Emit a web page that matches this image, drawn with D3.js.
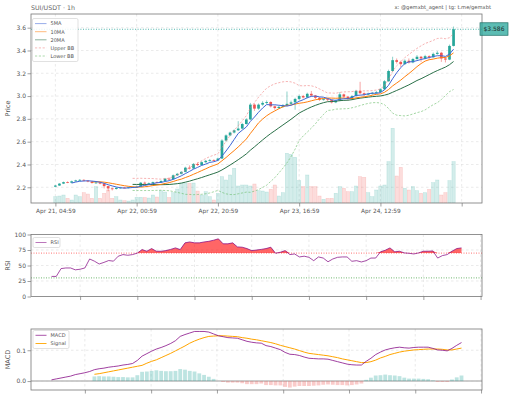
<!DOCTYPE html>
<html><head><meta charset="utf-8">
<script src="https://cdn.jsdelivr.net/npm/d3@7"></script>
<style>body{margin:0;background:#fff}svg{display:block}text{font-family:"DejaVu Sans",sans-serif}</style>
</head><body><svg id="c" width="512" height="398"></svg>
<script>
// ---------- DATA ----------
const timeTicks = [0, 20, 40, 60, 80, 100];
const timeLabels = ["Apr 21, 04:59", "Apr 22, 00:59", "Apr 22, 20:59", "Apr 23, 16:59", "Apr 24, 12:59", ""];
const open = [2.205,2.215,2.232,2.245,2.240,2.252,2.260,2.265,2.258,2.250,
2.238,2.242,2.232,2.210,2.190,2.185,2.195,2.198,2.195,2.200,
2.202,2.205,2.240,2.234,2.236,2.245,2.242,2.255,2.275,2.270,
2.305,2.318,2.335,2.372,2.365,2.405,2.395,2.420,2.432,2.438,
2.435,2.452,2.610,2.655,2.680,2.700,2.715,2.755,2.795,2.925,
2.890,2.925,2.940,2.948,2.910,2.895,2.905,2.920,2.932,2.945,
2.975,3.000,2.988,3.020,3.005,2.985,2.968,2.972,2.966,2.945,
2.960,3.015,2.995,2.975,3.000,3.045,3.025,3.012,3.020,3.028,
3.035,3.060,3.130,3.220,3.315,3.300,3.280,3.310,3.295,3.325,
3.345,3.330,3.350,3.340,3.370,3.380,3.330,3.320,3.440];
const close = [2.215,2.232,2.245,2.240,2.252,2.260,2.265,2.258,2.250,2.238,
2.242,2.232,2.210,2.190,2.185,2.195,2.198,2.195,2.200,2.202,
2.205,2.240,2.234,2.236,2.245,2.242,2.255,2.275,2.270,2.305,
2.318,2.335,2.372,2.365,2.405,2.395,2.420,2.432,2.438,2.435,
2.452,2.610,2.655,2.680,2.700,2.715,2.755,2.795,2.925,2.890,
2.925,2.940,2.948,2.910,2.895,2.905,2.920,2.932,2.945,2.975,
3.000,2.988,3.020,3.005,2.985,2.968,2.972,2.966,2.945,2.960,
3.015,2.995,2.975,3.000,3.045,3.025,3.012,3.020,3.028,3.035,
3.060,3.130,3.220,3.315,3.300,3.280,3.310,3.295,3.325,3.345,
3.330,3.350,3.340,3.370,3.380,3.330,3.320,3.440,3.586];
const high = [2.220,2.236,2.250,2.252,2.258,2.266,2.272,2.270,2.262,2.254,
2.250,2.246,2.238,2.214,2.196,2.200,2.204,2.203,2.205,2.208,
2.212,2.246,2.250,2.242,2.250,2.252,2.262,2.282,2.286,2.312,
2.326,2.342,2.380,2.392,2.412,2.418,2.428,2.440,2.448,2.446,
2.460,2.622,2.664,2.688,2.708,2.780,2.765,2.805,2.940,2.935,
2.935,2.955,2.962,2.955,2.918,2.915,2.930,3.040,2.960,2.985,
3.012,3.010,3.030,3.045,3.010,2.992,2.980,2.982,2.972,2.970,
3.035,3.022,3.000,3.008,3.055,3.125,3.032,3.030,3.036,3.045,
3.068,3.140,3.232,3.345,3.330,3.310,3.322,3.330,3.335,3.360,
3.352,3.362,3.358,3.382,3.395,3.388,3.345,3.452,3.610];
const low = [2.200,2.212,2.228,2.236,2.237,2.248,2.256,2.252,2.244,2.232,
2.230,2.226,2.190,2.165,2.172,2.180,2.188,2.190,2.190,2.194,
2.196,2.200,2.228,2.226,2.230,2.236,2.238,2.250,2.262,2.266,
2.298,2.312,2.330,2.356,2.360,2.386,2.390,2.414,2.425,2.426,
2.430,2.448,2.600,2.648,2.672,2.694,2.708,2.750,2.790,2.870,
2.880,2.915,2.930,2.900,2.880,2.888,2.898,2.910,2.925,2.880,
2.965,2.978,2.980,2.995,2.972,2.958,2.960,2.955,2.935,2.938,
2.955,2.985,2.960,2.968,2.995,3.015,2.998,3.005,3.012,3.020,
3.028,3.052,3.125,3.212,3.285,3.255,3.272,3.285,3.288,3.318,
3.300,3.322,3.320,3.335,3.362,3.300,3.295,3.315,3.435];
const volume = [0.19,0.21,0.24,0.14,0.09,0.24,0.19,0.31,0.27,0.14,
0.49,0.14,0.29,0.39,0.14,0.19,0.09,0.07,0.06,0.09,
0.17,0.17,0.165,0.15,0.24,0.18,0.37,0.33,0.165,0.31,
0.42,0.59,0.59,0.59,0.60,0.36,0.24,0.34,0.19,0.09,
0.29,0.79,0.69,0.84,1.04,0.51,0.54,0.54,0.51,0.57,
0.37,0.36,0.33,0.41,0.54,0.21,0.31,1.49,1.46,1.37,
0.67,0.49,0.84,0.49,0.49,0.21,0.11,0.14,0.14,0.29,
0.49,0.44,0.34,0.34,0.51,0.79,0.77,0.31,0.19,0.39,
0.51,0.54,1.24,2.24,0.81,1.07,0.44,0.39,0.49,0.37,
0.29,0.31,0.41,0.61,0.69,0.24,0.31,0.67,1.24];
const lastPrice = 3.586;
const priceTicks = [2.2, 2.4, 2.6, 2.8, 3.0, 3.2, 3.4, 3.6];

const rsi = [32.4,32.4,45,46,46,43,44,46,60.5,57,
52.4,55,58,57,65,67.6,66.5,67.6,70,75.7,
73,77.3,73,73,74,76,78.4,75.7,86.5,88,
86.5,86.5,88,89,90.8,93,85,85,86.5,80,
79.5,77.3,74,75,76,77.3,79.5,69.7,71.4,74,
67.6,68.6,63.8,65,63.2,57.8,63.8,62,56,60.5,
63.2,63.8,63.8,56.8,57.8,55.7,57.8,62,62,72,
74.6,78.4,72,73,70.3,69.7,68.6,70.3,73,73,
73.5,62,66,67.6,73,77.3,78.4];
const rsiTicks = [0, 25, 50, 75, 100];
const rsiXTicks = [6, 18, 30, 42, 54, 66, 78, 90];

const macd = [.004,.007,.010,.013,.016,.021,.024,.027,.031,.037,
.040,.042,.045,.047,.049,.052,.054,.057,.067,.081,
.089,.097,.104,.109,.115,.122,.131,.145,.151,.156,
.161,.161,.161,.159,.153,.147,.144,.141,.140,.139,
.134,.129,.126,.124,.123,.115,.112,.107,.102,.093,
.087,.086,.083,.078,.074,.073,.072,.072,.071,.067,
.063,.059,.055,.053,.052,.052,.064,.074,.086,.094,
.101,.105,.108,.110,.108,.107,.109,.110,.110,.110,
.106,.101,.100,.098,.106,.116,.125];
const signal = [null,null,null,null,null,null,null,null,null,
.022,.024,.027,.030,.033,.036,.039,.042,.045,.048,
.051,.058,.064,.069,.076,.083,.090,.098,.106,.114,
.123,.130,.136,.141,.145,.146,.147,.147,.146,.145,
.144,.141,.139,.136,.134,.131,.128,.125,.121,.116,
.112,.108,.104,.099,.094,.090,.088,.086,.084,.082,
.079,.076,.072,.069,.066,.063,.060,.060,.063,.068,
.075,.080,.086,.090,.094,.097,.099,.101,.102,.103,
.104,.104,.104,.103,.101,.101,.104,.107];
const macdTicks = [0.0, 0.1];
const macdXTicks = [7, 20.9, 34.7, 48.6, 62.4, 76.3, 90.1];

// ---------- STYLE ----------
const UP = "#26a69a", DOWN = "#ef5350";
const C5 = "#3f67d6", C10 = "#ff7f0e", C20 = "#2a7048";
const CBU = "#f08080", CBL = "#66bb66";
const TXT = "#555", SPINE = "#777", GRID = "#dcdcdc";

const svg = d3.select("#c");
const L = 31, R = 482;
const P = {top: 14, bottom: 203}, RP = {top: 234.5, bottom: 296.5}, MP = {top: 329, bottom: 390};

// ---------- SCALES ----------
const x = d3.scaleLinear().domain([-6, 105]).range([L, R]);
const y = d3.scaleLinear().domain([2.062, 3.72]).range([P.bottom, P.top]);
const yv = d3.scaleLinear().domain([0, d3.max(volume) * 2.53]).range([P.bottom, P.top]);
const xi = d3.scaleLinear().domain([-4.3, 90.3]).range([L, R]);
const yr = d3.scaleLinear().domain([0, 100]).range([RP.bottom, RP.top]);
const ym = d3.scaleLinear().domain([-0.029, 0.169]).range([MP.bottom, MP.top]);

// derived indicators
const sma = k => close.map((_, i) => i < k - 1 ? null : d3.mean(close.slice(i - k + 1, i + 1)));
const ma5 = sma(5), ma10 = sma(10), ma20 = sma(20);
const sd20 = close.map((_, i) => i < 19 ? null : d3.deviation(close.slice(i - 19, i + 1)));
const bbU = ma20.map((m, i) => m == null ? null : m + 2 * sd20[i]);
const bbL = ma20.map((m, i) => m == null ? null : m - 2 * sd20[i]);
const hist = macd.map((m, i) => ({i, v: signal[i] == null ? null : m - signal[i]})).filter(o => o.v != null);

// clip paths
const defs = svg.append("defs");
[["cp", P], ["cr", RP], ["cm", MP]].forEach(([id, p]) => {
  defs.append("clipPath").attr("id", id).append("rect")
    .attr("x", L).attr("y", p.top).attr("width", R - L).attr("height", p.bottom - p.top);
});

function grid(g, xs, xvals, ys, yvals, p) {
  g.selectAll(null).data(xvals).enter().append("line")
    .attr("x1", d => xs(d)).attr("x2", d => xs(d)).attr("y1", p.top).attr("y2", p.bottom)
    .attr("stroke", GRID).attr("stroke-width", 0.6).attr("stroke-dasharray", "2.5,2.5");
  g.selectAll(null).data(yvals).enter().append("line")
    .attr("x1", L).attr("x2", R).attr("y1", d => ys(d)).attr("y2", d => ys(d))
    .attr("stroke", GRID).attr("stroke-width", 0.6).attr("stroke-dasharray", "2.5,2.5");
}
function styleAxis(g, fs) {
  g.attr("font-family", "DejaVu Sans, sans-serif").attr("font-size", fs);
  g.select(".domain").remove();
  g.selectAll("line").attr("stroke", SPINE).attr("stroke-width", 0.7);
  g.selectAll("text").attr("fill", TXT);
}
function frame(p) {
  svg.append("rect").attr("x", L).attr("y", p.top).attr("width", R - L).attr("height", p.bottom - p.top)
    .attr("fill", "none").attr("stroke", SPINE).attr("stroke-width", 0.8);
}
function ylabel(t, p) {
  svg.append("text").attr("transform", `translate(10,${(p.top + p.bottom) / 2}) rotate(-90)`)
    .attr("text-anchor", "middle").attr("fill", TXT).style("font-size", "6.5px").text(t);
}

// ---------- TITLE ----------
svg.append("text").attr("x", 31).attr("y", 9.5).attr("fill", "#666").style("font-size", "6.3px").text("SUI/USDT · 1h");
svg.append("text").attr("x", 491).attr("y", 9.3).attr("text-anchor", "end").attr("fill", TXT).style("font-size", "5.2px")
  .text("x: @gemxbt_agent | tg: t.me/gemxbt");

// ---------- PRICE PANEL ----------
const gp = svg.append("g");
grid(gp, x, timeTicks, y, priceTicks, P);
const pc = svg.append("g").attr("clip-path", "url(#cp)");
const step = x(1) - x(0);
// volume
pc.selectAll(null).data(volume).enter().append("rect")
  .attr("x", (d, i) => x(i) - step * 0.4).attr("width", step * 0.8)
  .attr("y", d => yv(d)).attr("height", d => P.bottom - yv(d))
  .attr("fill", (d, i) => close[i] >= open[i] ? UP : DOWN).attr("fill-opacity", 0.2)
  .attr("stroke", (d, i) => close[i] >= open[i] ? UP : DOWN).attr("stroke-opacity", 0.25).attr("stroke-width", 0.5);
// candles
const cg = pc.selectAll(null).data(close).enter().append("g");
cg.append("line").attr("x1", (d, i) => x(i)).attr("x2", (d, i) => x(i))
  .attr("y1", (d, i) => y(high[i])).attr("y2", (d, i) => y(low[i]))
  .attr("stroke", (d, i) => d >= open[i] ? UP : DOWN).attr("stroke-width", 0.7).attr("stroke-opacity", 0.75);
cg.append("rect").attr("x", (d, i) => x(i) - step * 0.33).attr("width", step * 0.66)
  .attr("y", (d, i) => y(Math.max(d, open[i])))
  .attr("height", (d, i) => Math.max(0.8, Math.abs(y(d) - y(open[i]))))
  .attr("fill", (d, i) => d >= open[i] ? UP : DOWN);
// lines
const lineGen = arr => d3.line().defined(d => d != null).x((d, i) => x(i)).y(d => y(d))(arr);
pc.append("path").attr("d", lineGen(bbU)).attr("fill", "none").attr("stroke", CBU).attr("stroke-width", 0.8).attr("stroke-opacity", 0.75).attr("stroke-dasharray", "2.2,1.6");
pc.append("path").attr("d", lineGen(bbL)).attr("fill", "none").attr("stroke", CBL).attr("stroke-width", 0.8).attr("stroke-opacity", 0.75).attr("stroke-dasharray", "2.2,1.6");
pc.append("path").attr("d", lineGen(ma20)).attr("fill", "none").attr("stroke", C20).attr("stroke-width", 1);
pc.append("path").attr("d", lineGen(ma10)).attr("fill", "none").attr("stroke", C10).attr("stroke-width", 1);
pc.append("path").attr("d", lineGen(ma5)).attr("fill", "none").attr("stroke", C5).attr("stroke-width", 1);
// last price line
svg.append("line").attr("x1", L).attr("x2", R).attr("y1", y(lastPrice)).attr("y2", y(lastPrice))
  .attr("stroke", UP).attr("stroke-width", 0.8).attr("stroke-dasharray", "1,1.6");
frame(P);
const axP = svg.append("g").attr("transform", `translate(0,${P.bottom})`)
  .call(d3.axisBottom(x).tickValues(timeTicks).tickFormat((d, i) => timeLabels[i]).tickSize(3.5).tickPadding(2));
styleAxis(axP, "5.8px");
const ayP = svg.append("g").attr("transform", `translate(${L},0)`)
  .call(d3.axisLeft(y).tickValues(priceTicks).tickFormat(d3.format(".1f")).tickSize(3.5).tickPadding(1.5));
styleAxis(ayP, "6px");
ylabel("Price", P);
// price tag
const ty = y(lastPrice);
svg.append("rect").attr("x", 480).attr("y", ty - 6.5).attr("width", 28).attr("height", 12.5)
  .attr("fill", UP).attr("fill-opacity", 0.75).attr("stroke", "#1e6f67").attr("stroke-width", 0.7);
svg.append("text").attr("x", 494).attr("y", ty + 2.2).attr("text-anchor", "middle").attr("fill", "#1b2b29")
  .style("font-size", "6px").text("$" + lastPrice.toFixed(3));
// legend
const legItems = [
  {n: "5MA", c: C5, d: null}, {n: "10MA", c: C10, d: null}, {n: "20MA", c: C20, d: null},
  {n: "Upper BB", c: CBU, d: "2.2,1.6"}, {n: "Lower BB", c: CBL, d: "2.2,1.6"}];
svg.append("rect").attr("x", 32.5).attr("y", 18.5).attr("width", 45.5).attr("height", 43)
  .attr("fill", "#fff").attr("fill-opacity", 0.85).attr("stroke", "#ccc").attr("stroke-width", 0.6).attr("rx", 1.5);
legItems.forEach((it, k) => {
  const yy = 23.6 + k * 8.1;
  svg.append("line").attr("x1", 35).attr("x2", 46.5).attr("y1", yy).attr("y2", yy)
    .attr("stroke", it.c).attr("stroke-width", 0.9).attr("stroke-dasharray", it.d).attr("stroke-opacity", 0.6);
  svg.append("text").attr("x", 50.5).attr("y", yy + 1.8).attr("fill", TXT).style("font-size", "5px").text(it.n);
});

// ---------- RSI PANEL ----------
const gr = svg.append("g");
grid(gr, xi, rsiXTicks, yr, [25, 50, 75], RP);
const rc = svg.append("g").attr("clip-path", "url(#cr)");
rc.append("path").datum(rsi)
  .attr("d", d3.area().x((d, i) => xi(i)).y0(yr(70)).y1(d => yr(Math.max(d, 70))))
  .attr("fill", "red").attr("fill-opacity", 0.6);
rc.append("line").attr("x1", L).attr("x2", R).attr("y1", yr(70)).attr("y2", yr(70))
  .attr("stroke", "red").attr("stroke-opacity", 0.7).attr("stroke-width", 0.8).attr("stroke-dasharray", "1,1.5");
rc.append("line").attr("x1", L).attr("x2", R).attr("y1", yr(30)).attr("y2", yr(30))
  .attr("stroke", "green").attr("stroke-opacity", 0.7).attr("stroke-width", 0.8).attr("stroke-dasharray", "1,1.5");
rc.append("path").datum(rsi).attr("d", d3.line().x((d, i) => xi(i)).y(d => yr(d)))
  .attr("fill", "none").attr("stroke", "purple").attr("stroke-opacity", 0.7).attr("stroke-width", 1);
frame(RP);
const axR = svg.append("g").attr("transform", `translate(0,${RP.bottom})`)
  .call(d3.axisBottom(xi).tickValues(rsiXTicks).tickFormat("").tickSize(3.5));
styleAxis(axR, "5.8px");
const ayR = svg.append("g").attr("transform", `translate(${L},0)`)
  .call(d3.axisLeft(yr).tickValues(rsiTicks).tickFormat(d3.format("d")).tickSize(3.5).tickPadding(1.5));
styleAxis(ayR, "6px");
ylabel("RSI", RP);
svg.append("rect").attr("x", 33).attr("y", 237.5).attr("width", 27).attr("height", 10)
  .attr("fill", "#fff").attr("fill-opacity", 0.85).attr("stroke", "#ccc").attr("stroke-width", 0.6).attr("rx", 1.5);
svg.append("line").attr("x1", 35.5).attr("x2", 46.5).attr("y1", 242.5).attr("y2", 242.5)
  .attr("stroke", "purple").attr("stroke-opacity", 0.6).attr("stroke-width", 0.9);
svg.append("text").attr("x", 50.5).attr("y", 244.3).attr("fill", TXT).style("font-size", "5px").text("RSI");

// ---------- MACD PANEL ----------
const gm = svg.append("g");
grid(gm, xi, macdXTicks, ym, macdTicks, MP);
const mc = svg.append("g").attr("clip-path", "url(#cm)");
const mstep = xi(1) - xi(0);
mc.append("line").attr("x1", L).attr("x2", R).attr("y1", ym(0)).attr("y2", ym(0))
  .attr("stroke", "#bdbdbd").attr("stroke-width", 1.6);
mc.selectAll(null).data(hist).enter().append("rect")
  .attr("x", o => xi(o.i) - mstep * 0.4).attr("width", mstep * 0.8)
  .attr("y", o => ym(Math.max(0, o.v))).attr("height", o => Math.abs(ym(o.v) - ym(0)))
  .attr("fill", o => o.v >= 0 ? UP : DOWN).attr("fill-opacity", 0.3);
mc.append("path").datum(signal).attr("d", d3.line().defined(d => d != null).x((d, i) => xi(i)).y(d => ym(d)))
  .attr("fill", "none").attr("stroke", "orange").attr("stroke-width", 1);
mc.append("path").datum(macd).attr("d", d3.line().x((d, i) => xi(i)).y(d => ym(d)))
  .attr("fill", "none").attr("stroke", "purple").attr("stroke-opacity", 0.75).attr("stroke-width", 1);
frame(MP);
const axM = svg.append("g").attr("transform", `translate(0,${MP.bottom})`)
  .call(d3.axisBottom(xi).tickValues(macdXTicks).tickFormat("").tickSize(3.5));
styleAxis(axM, "5.8px");
const ayM = svg.append("g").attr("transform", `translate(${L},0)`)
  .call(d3.axisLeft(ym).tickValues(macdTicks).tickFormat(d3.format(".1f")).tickSize(3.5).tickPadding(1.5));
styleAxis(ayM, "6px");
ylabel("MACD", MP);
svg.append("rect").attr("x", 33).attr("y", 330.5).attr("width", 36).attr("height", 18)
  .attr("fill", "#fff").attr("fill-opacity", 0.85).attr("stroke", "#ccc").attr("stroke-width", 0.6).attr("rx", 1.5);
[["MACD", "purple", 0.75], ["Signal", "orange", 1]].forEach(([n, c, o], k) => {
  const yy = 335.3 + k * 8.2;
  svg.append("line").attr("x1", 35.5).attr("x2", 46.5).attr("y1", yy).attr("y2", yy)
    .attr("stroke", c).attr("stroke-opacity", o).attr("stroke-width", 0.9);
  svg.append("text").attr("x", 50.5).attr("y", yy + 1.8).attr("fill", TXT).style("font-size", "5px").text(n);
});
</script></body></html>
